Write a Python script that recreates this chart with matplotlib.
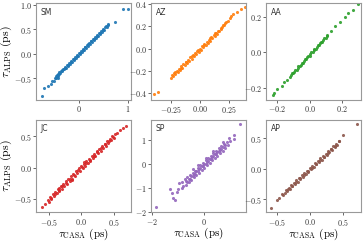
import matplotlib
matplotlib.use('Agg')
import matplotlib.pyplot as plt

plt.rcParams['font.family'] = 'serif'
plt.rcParams['font.serif'] = ['cmr10']
plt.rcParams['mathtext.fontset'] = 'cm'
plt.rcParams['axes.formatter.use_mathtext'] = True

# estimated points (tau_CASA, tau_ALPS) per protein
sm_pts = [(-0.76, -0.86), (-0.71, -0.69), (-0.63, -0.65), (-0.58, -0.61), (-0.56, -0.56),
          (-0.52, -0.55), (-0.50, -0.49), (-0.48, -0.50), (-0.46, -0.44), (-0.45, -0.48),
          (-0.43, -0.41), (-0.42, -0.45), (-0.40, -0.38), (-0.38, -0.40), (-0.36, -0.35),
          (-0.34, -0.36), (-0.32, -0.30), (-0.30, -0.32), (-0.28, -0.26), (-0.26, -0.28),
          (-0.24, -0.22), (-0.22, -0.24), (-0.20, -0.18), (-0.18, -0.20), (-0.16, -0.15),
          (-0.14, -0.16), (-0.12, -0.10), (-0.10, -0.12), (-0.08, -0.06), (-0.06, -0.08),
          (-0.04, -0.02), (-0.02, -0.04), (0.00, 0.02), (0.02, 0.00), (0.04, 0.06),
          (0.06, 0.04), (0.08, 0.10), (0.10, 0.08), (0.12, 0.14), (0.14, 0.12),
          (0.16, 0.18), (0.18, 0.16), (0.20, 0.22), (0.22, 0.20), (0.24, 0.26),
          (0.26, 0.24), (0.28, 0.30), (0.30, 0.28), (0.32, 0.34), (0.34, 0.32),
          (0.36, 0.38), (0.38, 0.36), (0.40, 0.42), (0.42, 0.40), (0.44, 0.46),
          (0.46, 0.44), (0.48, 0.50), (0.50, 0.48), (0.53, 0.54), (0.56, 0.55),
          (0.60, 0.59), (0.73, 0.64), (0.89, 0.92), (0.99, 0.92),
          (-0.47, -0.46), (-0.41, -0.42), (-0.35, -0.33), (-0.29, -0.29), (-0.23, -0.23),
          (-0.17, -0.17), (-0.11, -0.11), (-0.05, -0.05), (0.01, 0.01), (0.07, 0.07),
          (0.13, 0.13), (0.19, 0.19), (0.25, 0.25), (0.31, 0.31), (0.37, 0.37),
          (0.43, 0.43), (0.49, 0.49), (0.55, 0.57), (0.58, 0.60), (-0.44, -0.50)]

az_pts = [(-0.39, -0.41), (-0.36, -0.39),
          (-0.25, -0.26), (-0.24, -0.24), (-0.23, -0.25), (-0.22, -0.22), (-0.21, -0.23),
          (-0.20, -0.20), (-0.19, -0.21), (-0.18, -0.18), (-0.17, -0.19), (-0.16, -0.16),
          (-0.15, -0.17), (-0.14, -0.14), (-0.13, -0.15), (-0.12, -0.12), (-0.11, -0.13),
          (-0.10, -0.10), (-0.09, -0.11), (-0.08, -0.08), (-0.07, -0.09), (-0.06, -0.06),
          (-0.05, -0.07), (-0.04, -0.04), (-0.03, -0.05), (-0.02, -0.02), (-0.01, -0.03),
          (0.00, 0.00), (0.01, -0.01), (0.02, 0.02), (0.03, 0.01), (0.04, 0.04),
          (0.05, 0.03), (0.06, 0.06), (0.07, 0.05), (0.08, 0.08), (0.09, 0.07),
          (0.10, 0.10), (0.11, 0.09), (0.12, 0.12), (0.13, 0.11), (0.14, 0.14),
          (0.15, 0.13), (0.16, 0.16), (0.17, 0.16), (0.18, 0.18), (0.19, 0.19),
          (0.20, 0.21), (0.21, 0.21), (0.22, 0.23), (0.24, 0.25), (0.26, 0.27),
          (0.27, 0.29), (0.29, 0.31), (0.32, 0.33), (0.36, 0.35), (0.39, 0.37),
          (-0.215, -0.21), (-0.165, -0.17), (-0.115, -0.12), (-0.065, -0.07), (-0.015, -0.01),
          (0.035, 0.03), (0.085, 0.09), (0.135, 0.14), (0.185, 0.17), (0.23, 0.24)]

aa_pts = [(-0.23, -0.24), (-0.22, -0.23), (-0.20, -0.21), (-0.17, -0.19), (-0.16, -0.17),
          (-0.14, -0.16), (-0.12, -0.14), (-0.11, -0.12), (-0.10, -0.12), (-0.09, -0.10),
          (-0.08, -0.10), (-0.07, -0.08), (-0.06, -0.08), (-0.05, -0.06), (-0.04, -0.06),
          (-0.03, -0.04), (-0.02, -0.04), (-0.01, -0.02), (0.00, -0.02), (0.01, 0.00),
          (0.02, 0.00), (0.03, 0.02), (0.04, 0.02), (0.05, 0.04), (0.06, 0.04),
          (0.07, 0.06), (0.08, 0.06), (0.09, 0.08), (0.10, 0.08), (0.11, 0.10),
          (0.13, 0.12), (0.16, 0.15), (0.19, 0.17), (0.22, 0.20), (0.24, 0.22),
          (0.27, 0.24), (0.30, 0.27),
          (-0.115, -0.13), (-0.095, -0.11), (-0.075, -0.09), (-0.055, -0.07), (-0.035, -0.05),
          (-0.015, -0.03), (0.005, -0.01), (0.025, 0.01), (0.045, 0.03), (0.065, 0.05),
          (0.085, 0.07), (0.105, 0.09)]

jc_pts = [(-0.60, -0.63), (-0.56, -0.58), (-0.52, -0.52), (-0.50, -0.55), (-0.48, -0.47),
          (-0.46, -0.50), (-0.44, -0.42), (-0.42, -0.46), (-0.40, -0.39), (-0.38, -0.41),
          (-0.36, -0.35), (-0.34, -0.38), (-0.32, -0.30), (-0.30, -0.34), (-0.28, -0.27),
          (-0.26, -0.30), (-0.24, -0.22), (-0.22, -0.26), (-0.20, -0.18), (-0.18, -0.22),
          (-0.16, -0.14), (-0.14, -0.18), (-0.12, -0.10), (-0.10, -0.13), (-0.08, -0.06),
          (-0.06, -0.09), (-0.04, -0.01), (-0.02, -0.05), (0.00, 0.03), (0.02, -0.01),
          (0.04, 0.06), (0.06, 0.03), (0.08, 0.10), (0.10, 0.07), (0.12, 0.14),
          (0.14, 0.11), (0.16, 0.18), (0.18, 0.15), (0.20, 0.22), (0.22, 0.19),
          (0.24, 0.26), (0.26, 0.23), (0.28, 0.30), (0.30, 0.27), (0.32, 0.34),
          (0.34, 0.31), (0.36, 0.38), (0.38, 0.35), (0.40, 0.42), (0.42, 0.40),
          (0.44, 0.46), (0.46, 0.44), (0.48, 0.50), (0.50, 0.47), (0.52, 0.54),
          (0.55, 0.56), (0.60, 0.61), (0.64, 0.63), (0.69, 0.67),
          (-0.47, -0.49), (-0.41, -0.42), (-0.35, -0.36), (-0.29, -0.30), (-0.23, -0.24),
          (-0.17, -0.18), (-0.11, -0.12), (-0.05, -0.04), (0.01, 0.01), (0.07, 0.07),
          (0.13, 0.12), (0.19, 0.19), (0.25, 0.25), (0.31, 0.31), (0.37, 0.37),
          (0.43, 0.43), (0.49, 0.49), (-0.35, -0.33), (0.05, 0.09), (-0.15, -0.20)]

sp_pts = [(-1.84, -1.79), (-1.25, -1.18), (-1.19, -1.40), (-1.12, -1.47), (-1.00, -1.01),
          (-0.87, -0.97), (-0.95, -0.80), (-0.80, -0.90), (-0.75, -0.60), (-0.70, -0.85),
          (-0.65, -0.55), (-0.60, -0.75), (-0.55, -0.45), (-0.50, -0.65), (-0.45, -0.35),
          (-0.40, -0.55), (-0.35, -0.30), (-0.30, -0.45), (-0.25, -0.15), (-0.20, -0.35),
          (-0.15, -0.05), (-0.10, -0.25), (-0.05, 0.05), (0.00, -0.15), (0.05, 0.15),
          (0.10, -0.05), (0.15, 0.25), (0.20, 0.05), (0.25, 0.35), (0.30, 0.15),
          (0.35, 0.45), (0.40, 0.25), (0.45, 0.55), (0.50, 0.35), (0.55, 0.65),
          (0.60, 0.45), (0.65, 0.75), (0.70, 0.55), (0.75, 0.85), (0.80, 0.65),
          (0.85, 0.90), (0.94, 1.06), (1.12, 1.19), (1.15, 1.05), (1.37, 1.67),
          (-0.70, -0.70), (-0.60, -0.60), (-0.50, -0.50), (-0.40, -0.40), (-0.30, -0.30),
          (-0.20, -0.20), (-0.10, -0.10), (0.00, 0.00), (0.10, 0.10), (0.20, 0.20),
          (0.30, 0.30), (0.40, 0.40), (0.50, 0.50), (0.60, 0.60), (0.70, 0.70),
          (-0.85, -0.75), (-0.55, -0.62), (-0.45, -0.48), (-0.35, -0.42), (-0.25, -0.28),
          (-0.15, -0.18), (-0.05, -0.08), (0.05, 0.02), (0.15, 0.12), (0.25, 0.20),
          (0.35, 0.32), (0.45, 0.42), (0.55, 0.52), (0.65, 0.62), (0.80, 0.78),
          (-0.65, -0.72), (-0.25, -0.05), (0.05, 0.25), (0.35, 0.55), (0.90, 0.80),
          (-1.30, -1.05), (-1.05, -1.15), (1.00, 0.95), (0.70, 0.92), (-0.45, -0.22)]

ap_pts = [(-0.59, -0.65), (-0.50, -0.51), (-0.46, -0.48), (-0.42, -0.42), (-0.38, -0.40),
          (-0.36, -0.35), (-0.34, -0.37), (-0.32, -0.31), (-0.30, -0.33), (-0.28, -0.27),
          (-0.26, -0.29), (-0.24, -0.23), (-0.22, -0.25), (-0.20, -0.19), (-0.18, -0.21),
          (-0.16, -0.15), (-0.14, -0.17), (-0.12, -0.11), (-0.10, -0.13), (-0.08, -0.07),
          (-0.06, -0.09), (-0.04, -0.03), (-0.02, -0.05), (0.00, 0.01), (0.02, -0.01),
          (0.04, 0.05), (0.06, 0.03), (0.08, 0.09), (0.10, 0.07), (0.12, 0.13),
          (0.14, 0.11), (0.16, 0.17), (0.18, 0.15), (0.20, 0.21), (0.22, 0.19),
          (0.24, 0.25), (0.26, 0.23), (0.28, 0.29), (0.30, 0.27), (0.32, 0.33),
          (0.34, 0.31), (0.36, 0.37), (0.38, 0.35), (0.40, 0.41), (0.42, 0.39),
          (0.44, 0.45), (0.51, 0.55), (0.71, 0.74),
          (-0.33, -0.34), (-0.27, -0.28), (-0.21, -0.22), (-0.15, -0.16), (-0.09, -0.10),
          (-0.03, -0.04), (0.03, 0.02), (0.09, 0.08), (0.15, 0.14), (0.21, 0.20),
          (0.27, 0.26), (0.33, 0.32), (0.39, 0.38), (0.45, 0.46), (-0.40, -0.43)]

names = ['SM', 'AZ', 'AA', 'JC', 'SP', 'AP']
all_pts = [sm_pts, az_pts, aa_pts, jc_pts, sp_pts, ap_pts]
colors = ['#1f77b4', '#ff7f0e', '#2ca02c', '#d62728', '#9467bd', '#8c564b']
xlims = [(-0.88, 1.06), (-0.42, 0.40), (-0.27, 0.32), (-0.70, 0.77), (-2.04, 1.60), (-0.66, 0.78)]
ylims = [(-0.94, 1.04), (-0.46, 0.41), (-0.27, 0.28), (-0.72, 0.77), (-1.97, 1.84), (-0.72, 0.81)]
xticks = [[0, 1], [-0.25, 0, 0.25], [-0.2, 0, 0.2], [-0.5, 0, 0.5], [-2, 0], [-0.5, 0, 0.5]]
yticks = [[-0.5, 0, 0.5, 1.0], [-0.4, -0.2, 0, 0.2, 0.4], [-0.2, 0, 0.2],
          [-0.5, 0, 0.5], [-2, -1, 0, 1], [-0.5, 0, 0.5]]

fig = plt.figure(figsize=(3.63, 2.42), dpi=100)
lefts = [0.099, 0.416, 0.733]
bottoms = [0.587, 0.122]
heights = [0.402, 0.384]

for i, name in enumerate(names):
    r, c = divmod(i, 3)
    ax = fig.add_axes([lefts[c], bottoms[r], 0.262, heights[r]])
    xs, ys = zip(*all_pts[i])
    ax.scatter(xs, ys, s=5, color=colors[i], linewidths=0, alpha=0.9)
    ax.set_xlim(xlims[i])
    ax.set_ylim(ylims[i])
    ax.set_xticks(xticks[i])
    ax.set_yticks(yticks[i])
    ax.tick_params(labelsize=5.8, length=2, width=0.6, color='0.3', labelcolor='0.2', pad=1)
    for sp in ax.spines.values():
        sp.set_color('0.6')
        sp.set_linewidth(0.8)
    ax.text(0.05, 0.95, name, transform=ax.transAxes, ha='left', va='top',
            fontsize=5.5, family='DejaVu Sans', color='0.2')
    if c == 0:
        ax.set_ylabel(r'$\tau_{\mathrm{ALPS}}$ (ps)', fontsize=8.5, labelpad=0)
    if r == 1:
        ax.set_xlabel(r'$\tau_{\mathrm{CASA}}$ (ps)', fontsize=8, labelpad=-0.5)

fig.savefig('out.png', dpi=100)
